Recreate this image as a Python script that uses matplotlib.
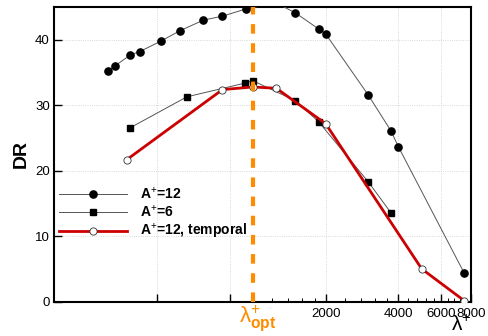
import matplotlib
matplotlib.use('Agg')
import matplotlib.pyplot as plt
from matplotlib.ticker import FixedLocator, NullFormatter, FixedFormatter

plt.rcParams['font.family'] = ['Liberation Sans', 'DejaVu Sans']
plt.rcParams['mathtext.fontset'] = 'custom'
plt.rcParams['mathtext.rm'] = 'Liberation Sans'
plt.rcParams['mathtext.bf'] = 'Liberation Sans:bold'
plt.rcParams['mathtext.it'] = 'Liberation Sans:italic'

# A+=12 (spatial)
lam12 = [250, 268, 311, 340, 416, 500, 624, 748, 934, 1250, 1500, 1870, 2000, 3000, 3730, 4000, 7500]
dr12 = [35.3, 36.0, 37.7, 38.2, 39.8, 41.4, 43.0, 43.6, 44.7, 45.6, 44.1, 41.65, 40.9, 31.6, 26.1, 23.7, 4.4]

# A+=6
lam6 = [311, 533, 930, 1000, 1500, 1870, 3000, 3730]
dr6 = [26.6, 31.3, 33.4, 33.75, 30.7, 27.5, 18.35, 13.6]

# A+=12, temporal
lamT = [300, 748, 1000, 1250, 2000, 5000, 7500]
drT = [21.7, 32.4, 32.8, 32.6, 27.2, 5.05, 0.2]

lam_opt = 1000

xmajor = [400, 800, 2000, 4000, 6000, 8000]
xlabels = ['', '', '2000', '4000', '6000', '8000']
xminor = [1200, 1400, 1600, 1800, 2400, 2800, 3200, 3600, 4400, 4800, 5200, 5600, 6400, 6800, 7200, 7600]
yticks = [0, 10, 20, 30, 40]

fig = plt.figure(figsize=(4.89, 3.36), dpi=100)
ax = fig.add_axes([0.1104, 0.1012, 0.8528, 0.878])

ax.plot(lam12, dr12, '-', color='#555555', lw=0.7, marker='o', ms=5.2,
        mfc='black', mec='black', label='A$^{+}$=12', zorder=3)
ax.plot(lam6, dr6, '-', color='#555555', lw=0.7, marker='s', ms=3.8,
        mfc='black', mec='black', label='A$^{+}$=6', zorder=3)
ax.plot(lamT, drT, '-', color='#CC0000', lw=2.0, marker='o', ms=5.2,
        mfc='white', mec='#333333', mew=0.6, label='A$^{+}$=12, temporal', zorder=4)
ax.axvline(lam_opt, color='#FF8C00', lw=3, ls=(0, (2.3, 2.3)), zorder=5)

ax.set_xscale('log')
ax.set_xlim(150, 8000)
ax.set_ylim(0, 45)
ax.xaxis.set_major_locator(FixedLocator(xmajor))
ax.xaxis.set_major_formatter(FixedFormatter(xlabels))
ax.xaxis.set_minor_locator(FixedLocator(xminor))
ax.xaxis.set_minor_formatter(NullFormatter())
ax.set_yticks(yticks)

ax.tick_params(axis='both', which='major', direction='in', length=6, width=1, labelsize=9.5, pad=4)
ax.tick_params(axis='x', which='minor', direction='in', length=3, width=0.7)
ax.tick_params(axis='y', pad=3)
for s in ax.spines.values():
    s.set_linewidth(1.5)

ax.grid(True, which='major', color='#cccccc', ls=':', lw=0.6)
ax.set_axisbelow(True)

ax.set_ylabel('DR', fontsize=14, fontweight='bold', labelpad=4)

fig.text(239 / 489, 1 - 303 / 336, r'$\mathrm{\lambda}^{+}_{\mathbf{opt}}$', color='#FF8C00',
         fontsize=16, ha='left', va='top')
fig.text(451 / 489, 0.004, r'$\mathrm{\lambda}^{+}$', fontsize=15, ha='left', va='bottom')

leg = ax.legend(loc='upper left', bbox_to_anchor=(59 / 489, 1 - 186 / 336),
                bbox_transform=fig.transFigure, frameon=False, handlelength=4.9,
                handletextpad=0.9, labelspacing=0.15, borderpad=0, borderaxespad=0,
                prop={'weight': 'bold', 'size': 10})

fig.savefig('out.png', dpi=100)
